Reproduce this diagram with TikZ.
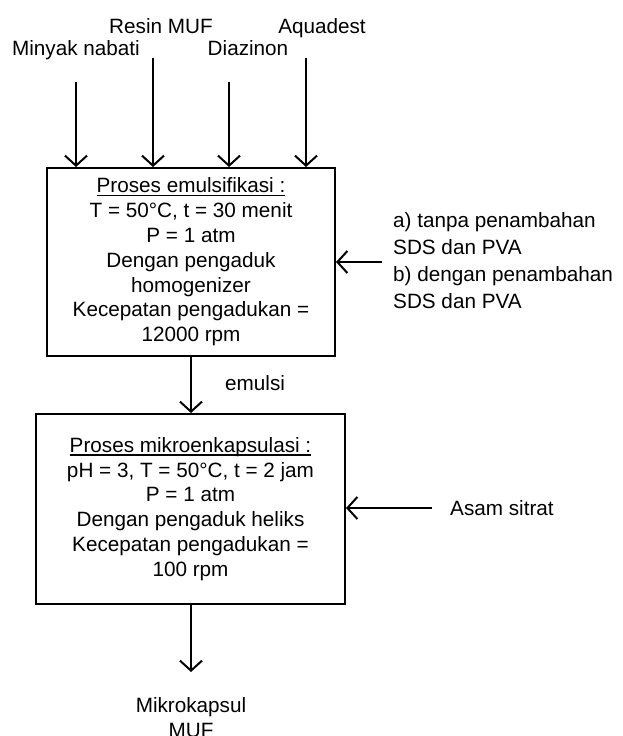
\documentclass[tikz,border=0pt]{standalone}
\usepackage{fontspec}
\setmainfont{Liberation Sans}
\usetikzlibrary{arrows.meta}
\newcommand{\thickul}[1]{\begingroup\setbox0\hbox{#1}\leavevmode\rlap{\rule[-3.5pt]{\wd0}{1.4pt}}\box0\endgroup}
\begin{document}
\begin{tikzpicture}[x=1pt,y=-1pt,
  every node/.style={font=\fontsize{20.7}{24.8}\selectfont, inner sep=0pt},
  procbox/.style={draw, line width=2pt, align=center},
  flow/.style={line width=2pt, -{Straight Barb[length=10pt,width=22pt]}},
  lbl/.style={anchor=base}]
\clip (0,0) rectangle (622,736);
\useasboundingbox (0,0) rectangle (622,736);
% boxes
\node[procbox, minimum width=288pt, minimum height=188pt] (b1) at (191,262)
  {\thickul{Proses emulsifikasi :}\\T = 50°C, t = 30 menit\\P = 1 atm\\Dengan pengaduk\\homogenizer\\Kecepatan pengadukan =\\12000 rpm};
\node[procbox, minimum width=309pt, minimum height=190pt] (b2) at (190.5,509)
  {\thickul{Proses mikroenkapsulasi :}\\pH = 3, T = 50°C, t = 2 jam\\P = 1 atm\\Dengan pengaduk heliks\\Kecepatan pengadukan =\\100 rpm};
% input labels
\node[lbl] (minyak) at (76,55) {Minyak nabati};
\node[lbl] (resin) at (161,33) {Resin MUF};
\node[lbl] (diaz) at (248,55) {Diazinon};
\node[lbl] (aqua) at (322,33) {Aquadest};
\coordinate (s1) at (76,82);
\coordinate (s2) at (153,58);
\coordinate (s3) at (229,82);
\coordinate (s4) at (306,58);
\draw[flow] (s1) -- (s1 |- b1.north);
\draw[flow] (s2) -- (s2 |- b1.north);
\draw[flow] (s3) -- (s3 |- b1.north);
\draw[flow] (s4) -- (s4 |- b1.north);
% side input 1
\node[anchor=base west, align=left, font=\fontsize{20.7}{27}\selectfont] (sds) at (393,308)
  {a) tanpa penambahan\\SDS dan PVA\\b) dengan penambahan\\SDS dan PVA};
\coordinate (r1) at (382,262);
\draw[flow] (r1) -- (r1 -| b1.east);
% emulsi
\draw[flow] (b1.south -| 191,0) -- (191,0 |- b2.north);
\node[anchor=base west] (emul) at (225,390) {emulsi};
% asam sitrat
\node[anchor=base west] (asam) at (450,515) {Asam sitrat};
\coordinate (r2) at (432,508);
\draw[flow] (r2) -- (r2 -| b2.east);
% output
\coordinate (o) at (191,672);
\draw[flow] (o |- b2.south) -- (o);
\node[anchor=base, align=center] (out) at (191,737) {Mikrokapsul\\MUF};
\end{tikzpicture}
\end{document}
